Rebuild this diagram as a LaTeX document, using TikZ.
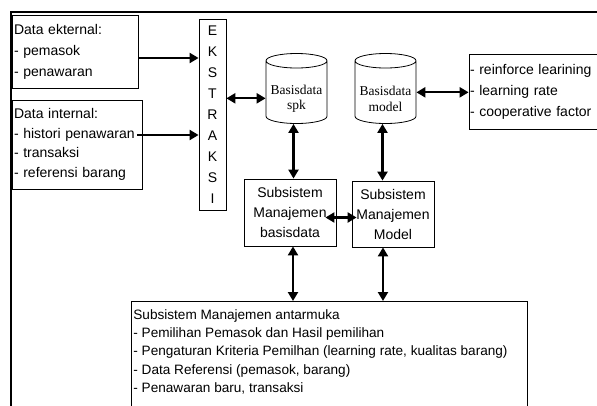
\documentclass[tikz,border=0pt]{standalone}
\usepackage{fontspec}
\setmainfont{Liberation Sans}
\newfontfamily\cylfont{Liberation Serif}
\usetikzlibrary{shapes.geometric,arrows.meta}
\tikzset{
  box/.style={draw, line width=0.8pt, inner sep=2pt, align=left},
  cbox/.style={draw, line width=0.8pt, inner sep=1pt, align=center,
    font=\fontsize{14}{20}\selectfont},
  db/.style={draw, line width=0.8pt, cylinder, shape border rotate=90, aspect=0.25,
    minimum width=61pt, minimum height=70pt, inner sep=0pt,
    font=\cylfont\fontsize{13.5}{15.5}\selectfont},
  arr/.style={line width=2.2pt, -{Triangle[length=9pt,width=10pt]}},
  darr/.style={line width=2.2pt, {Triangle[length=9pt,width=10pt]}-{Triangle[length=9pt,width=10pt]}}
}
\newcommand\dbtext[1]{\begin{minipage}[c][38pt][b]{58pt}\centering #1\end{minipage}}
\begin{document}
\begin{tikzpicture}[x=1pt,y=-1pt]
  \useasboundingbox (0,0) rectangle (597,405);
  \draw[line width=1.8pt] (11,12) rectangle (640,440);
  % data masuk
  \node[box, text width=122pt, minimum height=73pt, font=\fontsize{14}{21}\selectfont]
    (ext) at (75,51.5) {Data ekternal:\\- pemasok\\- penawaran};
  \node[box, text width=126pt, minimum height=89pt, font=\fontsize{14}{19.5}\selectfont]
    (int) at (77,144.5) {Data internal:\\- histori penawaran\\- transaksi\\- referensi barang};
  \node[cbox, minimum width=27pt, minimum height=191pt, font=\fontsize{14}{21}\selectfont]
    (eks) at (212.5,115) {E\\K\\S\\T\\R\\A\\K\\S\\I};
  % basis data
  \foreach \n/\x/\t in {spk/296.5/spk, mdl/385.5/model}{
    \node[db, anchor=shape center] (\n) at (\x,88.5) {\dbtext{Basisdata\\\t}};
  }
  \node[box, inner sep=1pt, text width=135pt, minimum height=75pt, font=\fontsize{14}{21}\selectfont]
    (par) at (537.5,91.5) {- reinforce learining\\- learning rate\\- cooperative factor};
  % subsistem
  \node[cbox, minimum width=92pt, minimum height=67pt] (smb) at (290,212.5) {Subsistem\\Manajemen\\basisdata};
  \node[cbox, minimum width=82pt, minimum height=66pt] (smm) at (393,214) {Subsistem\\Manajemen\\Model};
  \node[draw, line width=0.8pt, anchor=north west, inner xsep=2pt, inner ysep=8pt,
    font=\fontsize{13.6}{18.3}\selectfont]
    (ui) at (131,301) {\begin{minipage}[c][110pt][t]{392pt}
      Subsistem Manajemen antarmuka\\- Pemilihan Pemasok dan Hasil pemilihan\\- Pengaturan Kriteria Pemilhan (learning rate, kualitas barang)\\- Data Referensi (pemasok, barang)\\- Penawaran baru, transaksi
    \end{minipage}};
  % panah
  \draw[arr] ([yshift=-6.5pt]ext.east) -- ([yshift=-6.5pt]ext.east -| eks.west);
  \draw[arr] ([yshift=9.5pt,xshift=-5pt]int.east) -- ([yshift=9.5pt]int.east -| eks.west);
  \draw[darr] ([yshift=-6pt]spk.west -| eks.east) -- ([yshift=-6pt]spk.west);
  \draw[darr] (mdl.east) -- (mdl.east -| par.west);
  \draw[darr] ([xshift=-3pt]spk.bottom) -- ([xshift=-3pt]spk.bottom |- smb.north);
  \draw[darr] ([xshift=-3pt]mdl.bottom) -- ([xshift=-3pt]mdl.bottom |- smm.north);
  \draw[darr] ([yshift=-5pt,xshift=-11pt]smb.east) -- ([yshift=-5pt,xshift=5pt]smb.east -| smm.west);
  \draw[darr] ([xshift=3pt]smb.south) -- ([xshift=3pt]smb.south |- ui.north);
  \draw[darr] ([xshift=-10pt]smm.south) -- ([xshift=-10pt]smm.south |- ui.north);
\end{tikzpicture}
\end{document}
